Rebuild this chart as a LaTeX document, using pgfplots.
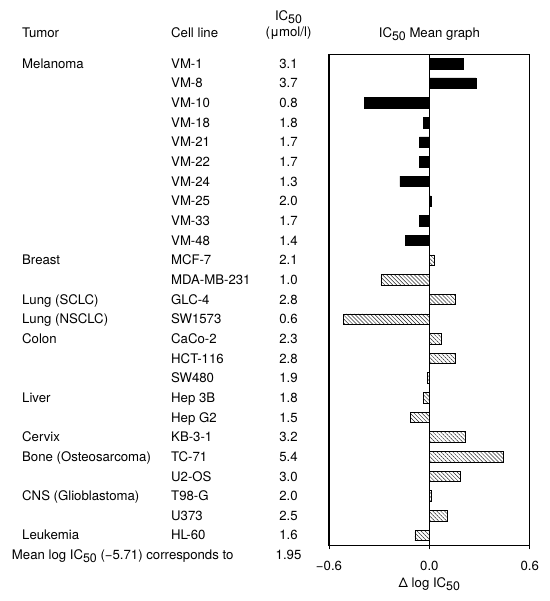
\documentclass[border=0pt]{standalone}
\usepackage{fontspec}
\setmainfont{TeX Gyre Heros}
\usepackage{pgfplots}
\pgfplotsset{compat=1.18}
\usetikzlibrary{patterns.meta}
\newcommand{\sub}[1]{\raisebox{-0.42ex}{\fontsize{12.4}{13}\selectfont #1}}
\tikzset{lab/.style={inner sep=0pt, text height=9.4pt, text depth=0pt},
  cl/.style={lab, anchor=west}, vl/.style={lab}}
\newcommand{\row}[4]{%
  \node[cl] at (axis cs:-2.4356,-#1) {#2};
  \node[cl] at (axis cs:-1.5447,-#1) {#3};
  \node[vl] at (axis cs:-0.8421,-#1) {#4};}
\begin{document}
\fontsize{13.2}{16}\selectfont
\begin{tikzpicture}[font=\fontsize{13.2}{16}\selectfont]
\path[use as bounding box] (0,0) rectangle (549pt,601pt);
\begin{axis}[
  at={(329pt,55.7pt)}, anchor=south west,
  scale only axis, width=200.7pt, height=490.6pt,
  xmin=-0.6, xmax=0.6, ymin=-25.51, ymax=-0.55,
  xbar, bar width=10.5pt, bar shift=0pt,
  xtick={-0.6,0,0.6}, xticklabels={−0.6,0.0,0.6},
  xtick pos=bottom, tick align=outside, major tick length=4pt,
  tick style={black, line width=1pt},
  xticklabel style={lab, anchor=north, yshift=-11.5pt},
  ytick=\empty,
  xmajorgrids, grid style={black, line width=0.9pt},
  axis line style={line width=1.1pt},
  clip=false,
]
\addplot[fill=black, draw=black, line width=0.5pt] coordinates {
(0.201,-1) (0.278,-2) (-0.387,-3) (-0.035,-4) (-0.060,-5)
(-0.060,-6) (-0.176,-7) (0.011,-8) (-0.060,-9) (-0.144,-10)};
\addplot[draw=black, line width=0.6pt, pattern={Lines[angle=-45,distance=2.8pt,line width=0.5pt]}, pattern color=black!85] coordinates {
(0.032,-11) (-0.290,-12) (0.157,-13) (-0.512,-14) (0.072,-15)
(0.157,-16) (-0.011,-17) (-0.035,-18) (-0.114,-19) (0.215,-20)
(0.442,-21) (0.187,-22) (0.011,-23) (0.108,-24) (-0.086,-25)};

% headers
\node[lab, anchor=west] at (axis cs:-2.4356,0.552) {Tumor};
\node[lab, anchor=west] at (axis cs:-1.5447,0.552) {Cell line};
\node[lab] at (axis cs:-0.8421,1.417) {IC\sub{50}};
\node[lab] at (axis cs:-0.8421,0.618) {(μmol/l)};
\node[lab] at (axis cs:0,0.552) {IC\sub{50} Mean graph};
% rows
\row{1}{Melanoma}{VM-1}{3.1}
\row{2}{}{VM-8}{3.7}
\row{3}{}{VM-10}{0.8}
\row{4}{}{VM-18}{1.8}
\row{5}{}{VM-21}{1.7}
\row{6}{}{VM-22}{1.7}
\row{7}{}{VM-24}{1.3}
\row{8}{}{VM-25}{2.0}
\row{9}{}{VM-33}{1.7}
\row{10}{}{VM-48}{1.4}
\row{11}{Breast}{MCF-7}{2.1}
\row{12}{}{MDA-MB-231}{1.0}
\row{13}{Lung (SCLC)}{GLC-4}{2.8}
\row{14}{Lung (NSCLC)}{SW1573}{0.6}
\row{15}{Colon}{CaCo-2}{2.3}
\row{16}{}{HCT-116}{2.8}
\row{17}{}{SW480}{1.9}
\row{18}{Liver}{Hep 3B}{1.8}
\row{19}{}{Hep G2}{1.5}
\row{20}{Cervix}{KB-3-1}{3.2}
\row{21}{Bone (Osteosarcoma)}{TC-71}{5.4}
\row{22}{}{U2-OS}{3.0}
\row{23}{CNS (Glioblastoma)}{T98-G}{2.0}
\row{24}{}{U373}{2.5}
\row{25}{Leukemia}{HL-60}{1.6}
\node[cl] at (axis cs:-2.497,-26) {Mean log IC\sub{50} (−5.71) corresponds to};
\node[vl] at (axis cs:-0.8421,-26) {1.95};
\node[lab] at (axis cs:0,-27.4) {Δ log IC\sub{50}};
\end{axis}
\end{tikzpicture}
\end{document}
